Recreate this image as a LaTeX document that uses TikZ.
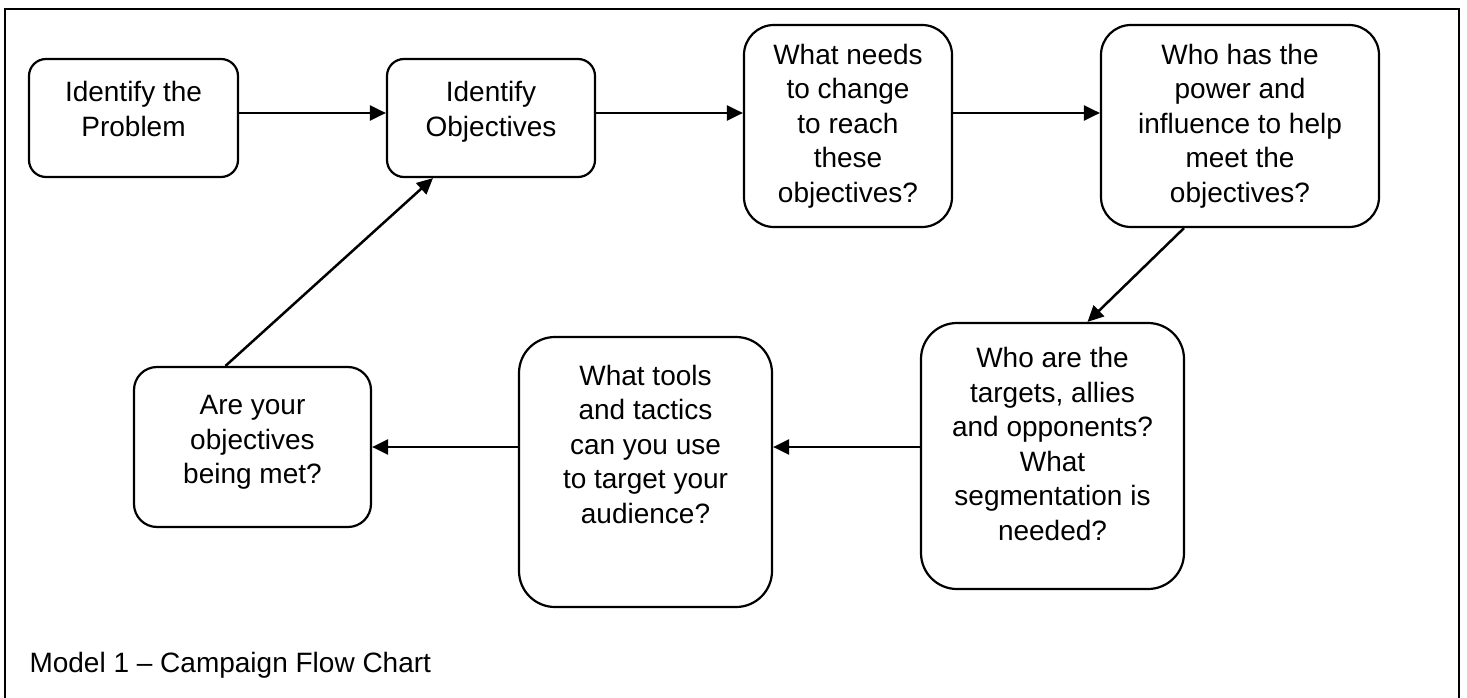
\documentclass[tikz,border=0pt]{standalone}
\usepackage{fontspec}
\setmainfont{Liberation Sans}
\usetikzlibrary{arrows.meta}

\tikzset{
    stage/.style={draw, line width=2.2pt, align=center, inner sep=0pt,
        font=\fontsize{28}{34.5}\selectfont},
    flow/.style={->, line width=2.5pt}
}

\begin{document}
\begin{tikzpicture}[x=1pt, y=-1pt, >={Triangle[length=16pt, width=15pt]}]
    \useasboundingbox (0,0) rectangle (1467,698);

    % Frame, open at the bottom
    \draw[line width=2.4pt] (5,698) |- (1459,9) -- (1459,698);

    % Top row
    \node[stage, rounded corners=17pt, minimum width=209pt, minimum height=118pt, text depth=18pt] (prob) at (133.5,118) {Identify the\\Problem};
    \node[stage, rounded corners=17pt, minimum width=208pt, minimum height=118pt, text depth=18pt] (obj) at (491,118) {Identify\\Objectives};
    \node[stage, rounded corners=30pt, minimum width=208pt, minimum height=202pt] (chg) at (848,126) {What needs\\to change\\to reach\\these\\objectives?};
    \node[stage, rounded corners=30pt, minimum width=278pt, minimum height=202pt] (pow) at (1240,126) {Who has the\\power and\\influence to help\\meet the\\objectives?};

    % Bottom row
    \node[stage, rounded corners=36pt, minimum width=263pt, minimum height=266pt, text depth=24pt] (tgt) at (1052.5,456) {Who are the\\targets, allies\\and opponents?\\What\\segmentation is\\needed?};
    \node[stage, rounded corners=36pt, minimum width=253pt, minimum height=270pt, text depth=56pt] (tools) at (645.5,472) {What tools\\and tactics\\can you use\\to target your\\audience?};
    \node[stage, rounded corners=23pt, minimum width=237pt, minimum height=160pt, text depth=15pt] (met) at (252.5,447) {Are your\\objectives\\being met?};

    % Arrows along the top
    \coordinate (row) at ([yshift=5pt]prob.east);
    \draw[flow] (row) -- (row -| obj.west);
    \draw[flow] (row -| obj.east) -- (row -| chg.west);
    \draw[flow] (row -| chg.east) -- (row -| pow.west);

    % Down and back along the bottom
    \draw[flow] ([xshift=-56pt]pow.south) -- ([xshift=35pt]tgt.north);
    \draw[flow] (tgt.west |- met.east) -- (tools.east |- met.east);
    \draw[flow] (tools.west |- met.east) -- (met.east);

    % Back up to the objectives
    \draw[flow] ([xshift=-27pt]met.north) -- ([xshift=-58pt]obj.south);

    % Caption
    \node[anchor=base west, font=\fontsize{28}{34}\selectfont] (caption) at (26,672) {Model 1 – Campaign Flow Chart};
\end{tikzpicture}
\end{document}
